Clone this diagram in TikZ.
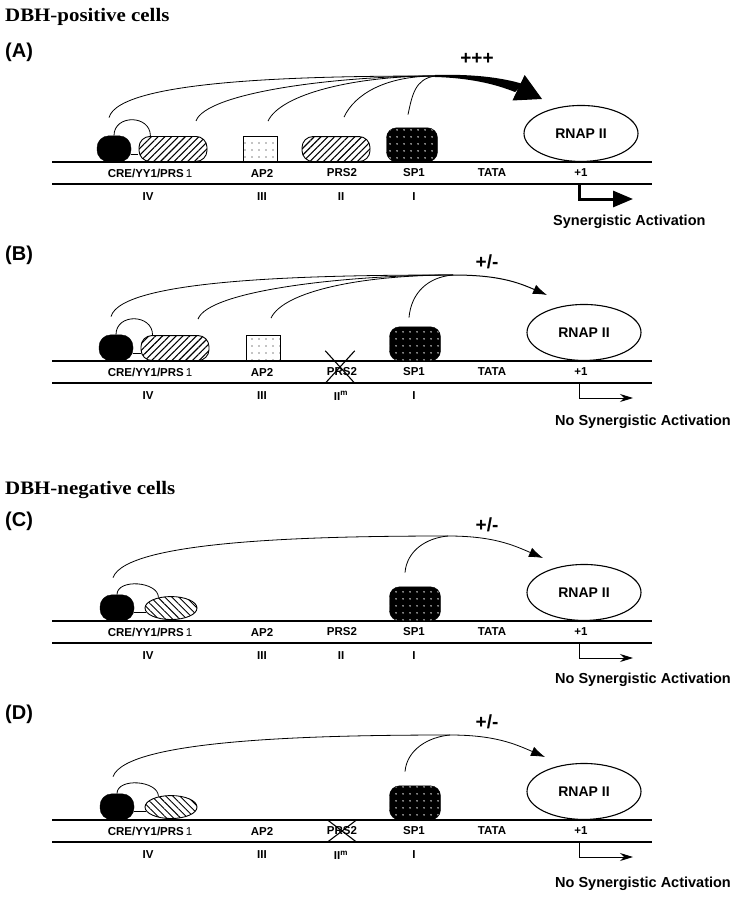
\documentclass[tikz,border=0pt]{standalone}
\usepackage{fontspec}
\setmainfont{Liberation Sans}
\newfontfamily\headfont[FakeStretch=1.1]{Liberation Serif}
\usetikzlibrary{arrows.meta,patterns.meta,shapes.geometric}

\tikzset{
  dna/.style={line width=1.2pt},
  reach/.style={line width=0.8pt},
  lbl/.style={font=\fontsize{11.5}{13}\selectfont\bfseries, inner sep=0pt},
  panellbl/.style={font=\fontsize{20}{22}\selectfont\bfseries, anchor=west, inner sep=0pt},
  heading/.style={font=\headfont\fontsize{19}{21}\selectfont\bfseries, anchor=west, inner sep=0pt},
  effect/.style={font=\fontsize{19}{21}\selectfont\bfseries, inner sep=0pt},
  outcome/.style={font=\fontsize{14.5}{16}\selectfont\bfseries, anchor=west, inner sep=0pt},
  crebox/.style={draw, fill=black, rounded corners=12pt, minimum width=34pt, minimum height=26pt, anchor=south, inner sep=0pt},
  hatchbox/.style={draw, line width=0.9pt, rounded corners=11pt, minimum width=68pt, minimum height=25pt, anchor=south, inner sep=0pt,
    pattern={Lines[angle=45,distance=4.8pt,line width=1.1pt]}},
  hatchoval/.style={draw, line width=0.9pt, ellipse, minimum width=52pt, minimum height=23pt, anchor=south, inner sep=0pt,
    pattern={Lines[angle=-45,distance=5pt,line width=0.9pt]}},
  ap2box/.style={draw, line width=0.9pt, minimum width=34pt, minimum height=25pt, anchor=south, inner sep=0pt,
    pattern={Dots[distance=7pt,radius=0.7pt]}},
  sp1box/.style={draw, rounded corners=10pt, minimum width=51pt, minimum height=34pt, anchor=south, inner sep=0pt,
    preaction={fill=black}, pattern={Dots[distance=6.5pt,radius=0.85pt]}, pattern color=white},
  rnap/.style={draw, ellipse, line width=1.1pt, minimum width=114pt, minimum height=56pt, inner sep=0pt, anchor=south,
    font=\fontsize{14}{16}\selectfont\bfseries},
  mutx/.style={minimum width=29pt, minimum height=32pt, inner sep=0pt},
  smallhead/.style={line width=1pt, -{Latex[length=14pt,width=10pt]}},
  tssthin/.style={line width=0.9pt, -{Stealth[length=13pt,width=8pt]}},
  tssthick/.style={line width=3pt, -{Triangle[length=20pt,width=16pt]}}
}

% DNA strands, site names and numerals of one panel
\newcommand\dnasites[2]{%
  \draw[dna] (52,0) -- (652,0);
  \draw[dna] (52,-22) -- (652,-22);
  \foreach \x/\txt [count=\i] in {150/{CRE/YY1/PRS\,{\mdseries 1}}, 262/AP2, 342/PRS2, 414/SP1, 492/TATA, 581/+1}
    \node[lbl] (site#1\i) at (\x,-11) {\txt};
  \foreach \x/\txt [count=\i] in {148/IV, 262/III, 341/{#2}, 414/I}
    \node[lbl] (num#1\i) at (\x,-35) {\txt};
  \coordinate (tss#1) at (579,-22);
  \coordinate (run#1) at (633,-37);
}

\begin{document}
\begin{tikzpicture}[x=1pt,y=1pt]
\useasboundingbox (0,0) rectangle (737,-899);

% (A) DBH-positive cells, all sites bound
\begin{scope}[yshift=-162pt]
  \node[heading] (headpos) at (5,145) {DBH-positive cells};
  \node[panellbl] (lblA) at (5,110) {(A)};
  \node[effect] (effA) at (477,103) {+++};
  \dnasites{A}{II}
  \node[crebox] (creA) at (114,0) {};
  \node[hatchbox] (prs1A) at (173,0) {};
  \node[ap2box] (ap2A) at (260,0) {};
  \node[hatchbox] (prs2A) at (336,0) {};
  \node[sp1box] (sp1A) at (412,0) {};
  \node[rnap] (polA) at (581,0) {RNAP II};
  \draw[reach] (creA.north) to[out=90,in=90,looseness=1.5] (prs1A.150);
  \draw[line width=0.9pt] (creA.east |- 0,8) -- (prs1A.west |- 0,8);
  \coordinate (hubA) at (435,86);
  \coordinate (tipA) at (542,63);
  \draw[reach] (creA.north) ++(-5,18) .. controls +(75:40) and +(-120,0) .. (hubA);
  \draw[reach] (prs1A.north) ++(23,15) .. controls +(70:30) and +(-100,0) .. (hubA);
  \draw[reach] (ap2A.north) ++(8,15) .. controls +(65:30) and +(-80,0) .. (hubA);
  \draw[reach] (prs2A.north) ++(8,19) .. controls +(65:25) and +(-50,0) .. (hubA);
  \draw[reach] (sp1A.north) ++(-4,13) .. controls +(78:20) and +(-20,-3) .. (hubA);
  % tapered shaft of the strong activation arrow
  \fill (435,87) .. controls (470,88) and (500,85) .. (523,78) -- (515,70) .. controls (495,78) and (470,84) .. (435,85) -- cycle;
  \draw[line width=1pt, -{Triangle[length=26pt,width=28pt]}] (hubA) .. controls +(45,0) and +(-25,12) .. (tipA);
  \draw[tssthick] (tssA) |- (runA);
  \node[outcome] (outA) at (553,-60) {Synergistic Activation};
\end{scope}

% (B) PRS2 mutated
\begin{scope}[yshift=-361pt]
  \node[panellbl] (lblB) at (5,106) {(B)};
  \node[effect] (effB) at (487,99) {+/-};
  \dnasites{B}{II\textsuperscript{m}}
  \node[crebox] (creB) at (116,0) {};
  \node[hatchbox] (prs1B) at (175,0) {};
  \node[ap2box] (ap2B) at (263,0) {};
  \node[sp1box] (sp1B) at (415,0) {};
  \node[rnap] (polB) at (584,0) {RNAP II};
  \node[mutx] (mutB) at (340,-6) {};
  \draw[line width=1.1pt] (mutB.north west) -- (mutB.south east) (mutB.north east) -- (mutB.south west);
  \draw[reach] (creB.north) to[out=90,in=90,looseness=1.5] (prs1B.150);
  \draw[line width=0.9pt] (creB.east |- 0,8) -- (prs1B.west |- 0,8);
  \coordinate (hubB) at (453,86);
  \coordinate (tipB) at (547,66);
  \draw[reach] (creB.north) ++(-5,18) .. controls +(75:40) and +(-130,0) .. (hubB);
  \draw[reach] (prs1B.north) ++(23,16) .. controls +(70:30) and +(-110,0) .. (hubB);
  \draw[reach] (ap2B.north) ++(8,17) .. controls +(65:30) and +(-90,0) .. (hubB);
  \draw[reach] (sp1B.north) ++(-6,9) .. controls +(85:25) and +(-25,-2) .. (hubB);
  \draw[smallhead] (hubB) .. controls +(45,0) and +(-30,13) .. (tipB);
  \draw[tssthin] (tssB) |- (runB);
  \node[outcome] (outB) at (555,-61) {No Synergistic Activation};
\end{scope}

% (C) DBH-negative cells
\begin{scope}[yshift=-621pt]
  \node[heading] (headneg) at (5,131) {DBH-negative cells};
  \node[panellbl] (lblC) at (5,100) {(C)};
  \node[effect] (effC) at (487,96) {+/-};
  \dnasites{C}{II}
  \node[crebox] (creC) at (117,0) {};
  \node[hatchoval] (prs1C) at (171,1) {};
  \node[sp1box] (sp1C) at (415,0) {};
  \node[rnap] (polC) at (584,0) {RNAP II};
  \draw[reach] (creC.north) to[out=90,in=90,looseness=1] (prs1C.140);
  \draw[line width=0.9pt] (creC.east |- prs1C.190) -- (prs1C.190);
  \coordinate (hubC) at (448,85);
  \coordinate (tipC) at (543,63);
  \draw[reach] (sp1C.north) ++(-10,14) .. controls +(85:22) and +(-22,-2) .. (hubC);
  \draw[reach, -{Latex[length=14pt,width=10pt]}] (creC.north) ++(-4,17) .. controls +(70:40) and +(-130,0) .. (hubC)
    .. controls +(45,0) and +(-30,13) .. (tipC);
  \draw[tssthin] (tssC) |- (runC);
  \node[outcome] (outC) at (555,-59) {No Synergistic Activation};
\end{scope}

% (D) PRS2 mutated in DBH-negative cells
\begin{scope}[yshift=-820pt]
  \node[panellbl] (lblD) at (5,106) {(D)};
  \node[effect] (effD) at (487,98) {+/-};
  \dnasites{D}{II\textsuperscript{m}}
  \node[crebox] (creD) at (117,0) {};
  \node[hatchoval] (prs1D) at (171,1) {};
  \node[sp1box] (sp1D) at (415,0) {};
  \node[rnap] (polD) at (584,0) {RNAP II};
  \node[mutx, minimum height=22pt] (mutD) at (342,-11) {};
  \draw[line width=1.1pt] (mutD.north west) -- (mutD.south east) (mutD.north east) -- (mutD.south west);
  \draw[reach] (creD.north) to[out=90,in=90,looseness=1] (prs1D.140);
  \draw[line width=0.9pt] (creD.east |- prs1D.190) -- (prs1D.190);
  \coordinate (hubD) at (450,85);
  \coordinate (tipD) at (545,63);
  \draw[reach] (sp1D.north) ++(-10,14) .. controls +(85:22) and +(-22,-2) .. (hubD);
  \draw[reach, -{Latex[length=14pt,width=10pt]}] (creD.north) ++(-4,17) .. controls +(70:40) and +(-130,0) .. (hubD)
    .. controls +(45,0) and +(-30,13) .. (tipD);
  \draw[tssthin] (tssD) |- (runD);
  \node[outcome] (outD) at (555,-64) {No Synergistic Activation};
\end{scope}
\end{tikzpicture}
\end{document}
